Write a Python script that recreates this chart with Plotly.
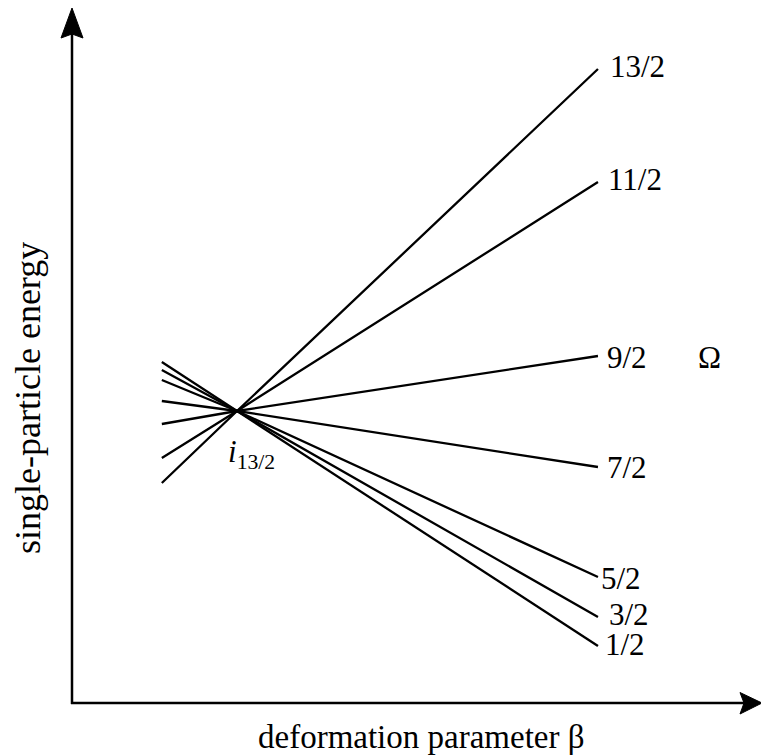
import plotly.graph_objects as go

# ---- data ----
omega_labels = ["1/2", "3/2", "5/2", "7/2", "9/2", "11/2", "13/2"]
beta_points = [-0.10, 0.0, 0.48]          # left end, crossing (i13/2), right end
energy_left = [0.49, 0.41, 0.31, 0.10, -0.13, -0.47, -0.72]
energy_cross = [0.0, 0.0, 0.0, 0.0, 0.0, 0.0, 0.0]
energy_right = [-2.35, -2.06, -1.66, -0.56, 0.55, 2.29, 3.42]

# ---- styling / layout constants ----
W, H = 761, 756
FONT = "Liberation Serif, Times New Roman, serif"
X_RANGE = [-0.3152, 0.6968]
Y_RANGE = [-3.45, 4.11]
label_dx = [6, 10, 2, 8, 8, 9, 11]        # pixel nudges of the Ω labels
label_dy = [-2, -3, 1, 0, 1, -3, -2.5]


def px(x):
    return x / W


def py(y):
    return 1 - y / H


fig = go.Figure()
for lab, el, ec, er in zip(omega_labels, energy_left, energy_cross, energy_right):
    fig.add_trace(go.Scatter(
        x=beta_points, y=[el, ec, er], mode="lines",
        line=dict(color="black", width=2.3), name=lab, showlegend=False,
        hoverinfo="skip"))

annotations = []
for lab, er, dx, dy in zip(omega_labels, energy_right, label_dx, label_dy):
    annotations.append(dict(
        x=beta_points[-1], y=er, xref="x", yref="y", text=lab,
        showarrow=False, xanchor="left", yanchor="middle",
        xshift=dx, yshift=-dy, borderpad=0,
        font=dict(family=FONT, size=31, color="black")))

# Ω heading
annotations.append(dict(
    x=px(709.5), y=py(358), xref="paper", yref="paper", text="Ω",
    showarrow=False, xanchor="center", yanchor="middle",
    font=dict(family=FONT, size=31, color="black")))

# i_{13/2} label at the crossing point
annotations.append(dict(
    x=beta_points[1], y=energy_cross[0], xref="x", yref="y",
    text="<i>i</i><sub>13/2</sub>", showarrow=False,
    xanchor="left", yanchor="top", xshift=-10, yshift=-22, borderpad=0,
    font=dict(family=FONT, size=31, color="black")))

# axis titles
annotations.append(dict(
    x=px(421.5), y=py(737), xref="paper", yref="paper",
    text="deformation parameter β", showarrow=False,
    xanchor="center", yanchor="middle",
    font=dict(family=FONT, size=33, color="black")))
annotations.append(dict(
    x=px(28), y=py(398), xref="paper", yref="paper",
    text="single-particle energy", showarrow=False, textangle=-90,
    xanchor="center", yanchor="middle",
    font=dict(family=FONT, size=36, color="black")))

# axes with arrowheads
ax_x, ax_y = 72, 703
shapes = [
    dict(type="line", xref="paper", yref="paper",
         x0=px(ax_x), y0=py(ax_y + 1), x1=px(ax_x), y1=py(30),
         line=dict(color="black", width=2.5)),
    dict(type="line", xref="paper", yref="paper",
         x0=px(ax_x - 1), y0=py(ax_y), x1=px(745), y1=py(ax_y),
         line=dict(color="black", width=2.5)),
    dict(type="path", xref="paper", yref="paper",
         path=f"M {px(72)},{py(8)} L {px(83)},{py(38)} L {px(72)},{py(34)} L {px(61)},{py(38)} Z",
         fillcolor="black", line=dict(color="black", width=1)),
    dict(type="path", xref="paper", yref="paper",
         path=f"M {px(762)},{py(703)} L {px(740)},{py(692.5)} L {px(744)},{py(703)} L {px(740)},{py(714)} Z",
         fillcolor="black", line=dict(color="black", width=1)),
]

fig.update_layout(
    width=W, height=H, margin=dict(l=0, r=0, t=0, b=0),
    paper_bgcolor="white", plot_bgcolor="white",
    xaxis=dict(range=X_RANGE, visible=False, fixedrange=True),
    yaxis=dict(range=Y_RANGE, visible=False, fixedrange=True),
    annotations=annotations, shapes=shapes, showlegend=False)

fig.write_html("out.html")
